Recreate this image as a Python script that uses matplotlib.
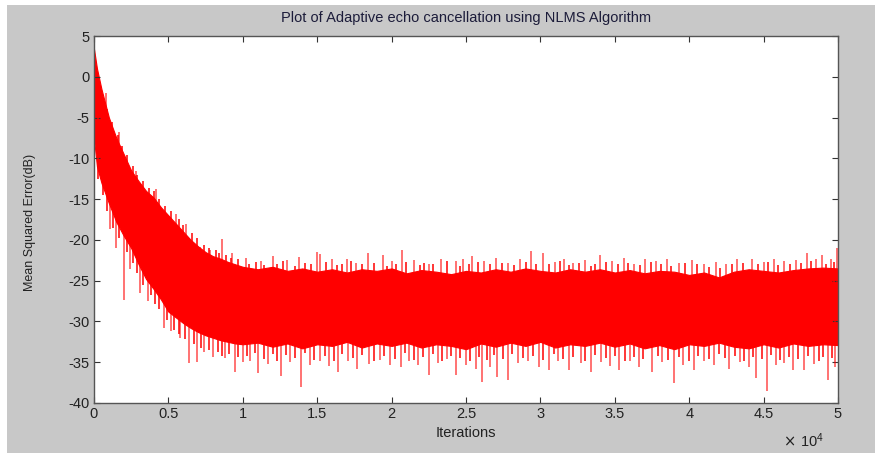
import numpy as np
import matplotlib.pyplot as plt
from matplotlib.patches import Rectangle

plt.rcParams['font.family'] = ['Liberation Sans', 'DejaVu Sans']
plt.rcParams['axes.unicode_minus'] = False

# band of the MSE curve, x in units of 1e4 iterations
env_x = [0, 0.02, 0.05, 0.1, 0.15, 0.2, 0.25, 0.3, 0.35, 0.4, 0.45, 0.5, 0.55, 0.6,
         0.65, 0.7, 0.75, 0.8, 0.85, 0.9, 0.95, 1.0, 1.1, 1.2, 1.3, 1.4, 1.5, 1.6,
         1.7, 1.8, 1.9, 2.0, 2.1, 2.2, 2.3, 2.4, 2.5, 2.6, 2.7, 2.8, 2.9, 3.0, 3.1,
         3.2, 3.3, 3.4, 3.5, 3.6, 3.7, 3.8, 3.9, 4.0, 4.1, 4.2, 4.3, 4.4, 4.5, 4.6,
         4.7, 4.8, 4.9, 5.0]
env_upper = [3.4, 1.0, -1.5, -5.0, -7.5, -9.5, -11.5, -12.8, -14.0, -14.8, -16.0, -17.0,
             -18.0, -19.0, -20.0, -20.8, -21.5, -22.0, -22.3, -22.7, -23.0, -23.3, -23.6,
             -23.3, -23.8, -23.5, -23.9, -23.6, -24.0, -23.6, -23.8, -23.5, -24.1, -23.7,
             -23.9, -24.2, -23.8, -24.0, -23.6, -23.9, -23.5, -23.8, -24.0, -23.6, -23.9,
             -23.6, -24.0, -23.7, -24.1, -23.8, -23.9, -24.3, -24.0, -24.6, -23.9, -23.6,
             -23.8, -24.0, -23.7, -23.5, -23.4, -23.5]
env_lower = [-7.6, -11.0, -13.0, -15.5, -17.8, -19.5, -21.0, -23.0, -24.8, -26.0, -27.3,
             -28.8, -29.5, -30.2, -30.8, -31.3, -31.7, -32.0, -32.3, -32.5, -32.7, -32.8,
             -32.6, -33.1, -32.7, -33.3, -32.8, -33.0, -32.5, -33.2, -32.7, -33.0, -32.6,
             -33.2, -32.8, -33.0, -33.4, -32.7, -33.1, -32.6, -33.0, -32.5, -33.2, -32.8,
             -33.0, -32.6, -33.1, -32.7, -33.3, -32.9, -33.4, -32.8, -33.0, -32.6, -33.1,
             -33.3, -32.8, -33.2, -32.7, -33.0, -32.8, -32.9]

# single samples sticking far out of the band
up_x = [0.08, 0.17, 0.28, 0.42, 0.55, 0.62, 0.71, 0.78, 0.86, 0.93, 1.02, 1.12, 1.2,
        1.3, 1.38, 1.5, 1.52, 1.6, 1.7, 1.76, 1.84, 1.94, 2.0, 2.07, 2.15, 2.25, 2.33,
        2.43, 2.48, 2.54, 2.62, 2.7, 2.78, 2.86, 2.94, 3.02, 3.1, 3.16, 3.22, 3.3,
        3.4, 3.48, 3.56, 3.63, 3.7, 3.78, 3.85, 3.93, 4.02, 4.1, 4.18, 4.25, 4.32,
        4.42, 4.5, 4.57, 4.64, 4.72, 4.79, 4.85, 4.89, 4.95, 4.99]
up_y = [-2.0, -6.8, -11.5, -13.8, -16.8, -18.0, -20.9, -21.2, -19.9, -21.6, -22.2,
        -22.6, -22.0, -22.5, -22.1, -21.5, -21.7, -22.4, -22.3, -22.8, -21.6, -21.8,
        -22.6, -21.2, -22.5, -22.9, -22.3, -22.6, -22.4, -22.0, -22.6, -22.2, -22.8,
        -22.3, -21.4, -21.6, -22.7, -22.4, -22.8, -22.5, -21.8, -22.6, -22.2, -22.9,
        -22.3, -22.6, -22.4, -22.8, -22.5, -22.9, -22.7, -23.0, -22.4, -22.4, -22.7,
        -22.3, -22.6, -22.5, -21.6, -22.4, -21.9, -22.3, -21.0]
down_x = [0.11, 0.15, 0.2, 0.24, 0.31, 0.36, 0.47, 0.52, 0.58, 0.64, 0.69, 0.74, 0.8,
          0.88, 0.95, 1.0, 1.05, 1.1, 1.17, 1.26, 1.32, 1.39, 1.45, 1.52, 1.58, 1.64,
          1.71, 1.77, 1.85, 1.92, 1.99, 2.06, 2.12, 2.18, 2.25, 2.31, 2.37, 2.43, 2.5,
          2.57, 2.61, 2.66, 2.71, 2.78, 2.85, 2.92, 2.99, 3.06, 3.12, 3.19, 3.27, 3.34,
          3.41, 3.47, 3.53, 3.6, 3.66, 3.75, 3.82, 3.9, 3.96, 4.03, 4.1, 4.17, 4.27,
          4.34, 4.4, 4.45, 4.52, 4.58, 4.64, 4.7, 4.77, 4.84, 4.93, 4.98]
down_y = [-18.7, -21.0, -27.4, -23.6, -26.5, -27.5, -30.8, -31.2, -32.0, -35.1, -35.0,
          -33.8, -34.4, -34.5, -36.2, -35.0, -34.8, -36.3, -35.2, -36.7, -35.0, -38.0,
          -35.3, -34.8, -35.5, -36.2, -34.9, -35.8, -35.2, -34.7, -35.4, -35.6, -34.9,
          -35.4, -36.6, -35.1, -34.6, -36.6, -35.3, -35.8, -37.4, -35.6, -36.8, -37.2,
          -35.1, -34.8, -35.6, -35.9, -34.9, -36.0, -35.1, -36.2, -35.0, -35.5, -36.0,
          -34.8, -35.6, -36.2, -35.0, -37.5, -35.3, -36.0, -34.9, -35.4, -35.8, -35.0,
          -35.6, -36.9, -38.5, -35.4, -35.1, -35.9, -36.0, -35.2, -37.2, -35.6]

# short hairs along the band edges
hair_up = [(0.03, -0.5), (0.06, -2.5), (0.09, -4.0), (0.12, -5.5), (0.16, -7.2),
           (0.19, -8.5), (0.22, -9.6), (0.26, -11.0), (0.29, -12.0), (0.33, -12.8),
           (0.37, -13.6), (0.4, -14.0), (0.44, -15.0), (0.48, -15.8), (0.52, -16.5),
           (0.57, -17.5), (0.6, -18.2), (0.66, -19.2), (0.69, -19.8), (0.74, -20.6),
           (0.77, -21.0), (0.82, -21.2), (0.84, -21.6), (0.89, -21.9), (0.92, -22.2),
           (0.97, -22.4), (1.04, -23.0), (1.09, -22.7), (1.14, -23.1), (1.23, -22.9),
           (1.27, -22.6), (1.35, -23.2), (1.42, -22.8), (1.46, -23.0), (1.56, -22.7),
           (1.63, -23.1), (1.67, -22.9), (1.73, -22.6), (1.8, -23.0), (1.88, -22.8),
           (1.97, -23.2), (2.03, -22.9), (2.1, -22.7), (2.19, -23.1), (2.22, -22.8),
           (2.28, -23.0), (2.37, -22.6), (2.46, -23.2), (2.52, -22.9), (2.58, -22.7),
           (2.66, -23.0), (2.74, -22.8), (2.82, -23.1), (2.9, -22.7), (2.97, -22.9),
           (3.06, -23.0), (3.13, -22.6), (3.19, -23.1), (3.26, -22.8), (3.34, -23.2),
           (3.37, -22.9), (3.44, -22.7), (3.52, -23.0), (3.59, -22.8), (3.67, -23.1),
           (3.74, -22.7), (3.81, -22.9), (3.88, -23.2), (3.97, -22.8), (4.05, -23.0),
           (4.13, -23.3), (4.21, -23.4), (4.29, -22.9), (4.36, -22.8), (4.46, -23.0),
           (4.53, -22.7), (4.6, -23.1), (4.68, -22.9), (4.75, -22.8), (4.82, -22.6),
           (4.92, -22.9), (4.97, -22.7)]
hair_down = [(0.03, -12.5), (0.06, -14.5), (0.09, -16.5), (0.13, -18.5), (0.17, -19.8),
             (0.22, -21.5), (0.26, -22.8), (0.29, -24.0), (0.33, -25.5), (0.38, -26.8),
             (0.41, -27.8), (0.44, -28.5), (0.49, -29.8), (0.54, -31.0), (0.57, -31.5),
             (0.61, -32.2), (0.67, -32.8), (0.72, -33.2), (0.77, -33.5), (0.83, -33.8),
             (0.86, -34.2), (0.91, -34.0), (0.97, -34.4), (1.03, -34.2), (1.08, -33.9),
             (1.14, -34.6), (1.2, -34.0), (1.23, -34.8), (1.29, -34.1), (1.35, -34.5),
             (1.42, -33.9), (1.48, -34.7), (1.55, -34.2), (1.61, -34.9), (1.67, -34.0),
             (1.74, -34.5), (1.8, -34.1), (1.88, -34.8), (1.95, -34.2), (2.02, -34.6),
             (2.09, -33.9), (2.15, -34.7), (2.21, -34.3), (2.28, -34.0), (2.34, -34.8),
             (2.4, -34.2), (2.46, -34.5), (2.53, -34.9), (2.59, -34.3), (2.64, -34.7),
             (2.69, -34.1), (2.75, -34.6), (2.81, -34.0), (2.88, -34.5), (2.95, -34.2),
             (3.02, -34.7), (3.09, -34.0), (3.15, -34.6), (3.22, -34.3), (3.3, -34.8),
             (3.37, -34.1), (3.44, -34.5), (3.5, -34.2), (3.57, -34.9), (3.63, -34.3),
             (3.69, -34.6), (3.79, -34.2), (3.86, -34.7), (3.93, -34.4), (4.0, -34.9),
             (4.06, -34.2), (4.13, -34.6), (4.2, -34.0), (4.24, -34.5), (4.31, -34.2),
             (4.37, -34.8), (4.43, -34.3), (4.49, -34.6), (4.55, -34.1), (4.61, -34.7),
             (4.67, -34.3), (4.73, -34.6), (4.8, -34.2), (4.87, -34.8), (4.9, -34.3),
             (4.96, -34.5)]

xtick_vals = [0, 0.5, 1, 1.5, 2, 2.5, 3, 3.5, 4, 4.5, 5]
xtick_labels = ['0', '0.5', '1', '1.5', '2', '2.5', '3', '3.5', '4', '4.5', '5']
ytick_vals = [5, 0, -5, -10, -15, -20, -25, -30, -35, -40]

scale = 1e4
ex = np.array(env_x) * scale
upper = np.array(env_upper)
lower = np.array(env_lower)
mid = (upper + lower) / 2

fig = plt.figure(figsize=(8.75, 4.57), dpi=100, facecolor='white')
# gray matlab figure panel (white margin on top/left/bottom)
fig.patches.append(Rectangle((7 / 875, 4 / 457), 1 - 7 / 875, 1 - 9 / 457,
                             transform=fig.transFigure, facecolor='#c8c8c8',
                             edgecolor='none', zorder=-10))

ax = fig.add_axes([94 / 875, 1 - 403 / 457, 744 / 875, 367 / 457])
ax.set_facecolor('white')

red = '#ff0000'
ax.fill_between(ex, lower, upper, color=red, lw=0.8, edgecolor=red)

hu = np.array(hair_up)
hd = np.array(hair_down)
hux = hu[:, 0] * scale
hdx = hd[:, 0] * scale
ax.vlines(hux, np.interp(hux, ex, mid), hu[:, 1], color=red, lw=1.1)
ax.vlines(hdx, np.interp(hdx, ex, mid), hd[:, 1], color=red, lw=1.1)

ux = np.array(up_x) * scale
dx = np.array(down_x) * scale
ax.vlines(ux, np.interp(ux, ex, mid), up_y, color=red, lw=1.1, alpha=0.7)
ax.vlines(dx, np.interp(dx, ex, mid), down_y, color=red, lw=1.1, alpha=0.7)

ax.set_xlim(0, 5 * scale)
ax.set_ylim(-40, 5)
ax.set_xticks(np.array(xtick_vals) * scale)
ax.set_xticklabels(xtick_labels)
ax.set_yticks(ytick_vals)
ax.tick_params(direction='in', top=True, right=True, length=4, width=0.8,
               labelsize=10.5, colors='#333333', pad=3)
for lab in ax.get_xticklabels() + ax.get_yticklabels():
    lab.set_color('#222222')
for s in ax.spines.values():
    s.set_color('#555555')
    s.set_linewidth(1.0)

fig.text(466 / 875, 1 - 18 / 457, 'Plot of Adaptive echo cancellation using NLMS Algorithm',
         ha='center', va='center', fontsize=10.5, color='#1c1c3a')
fig.text(466 / 875, 1 - 433 / 457, 'Iterations', ha='center', va='center',
         fontsize=10.5, color='#222222')
fig.text(783 / 875, 1 - 441 / 457, r'$\times\ \mathregular{10^4}$', ha='left', va='center',
         fontsize=10.5, color='#222222')
fig.text(30 / 875, 1 - 222 / 457, 'Mean Squared Error(dB)', ha='center', va='center',
         rotation=90, fontsize=9, color='#222222',
         family=['Liberation Sans Narrow', 'Liberation Sans', 'DejaVu Sans'])

fig.savefig('out.png', dpi=100, facecolor=fig.get_facecolor())
